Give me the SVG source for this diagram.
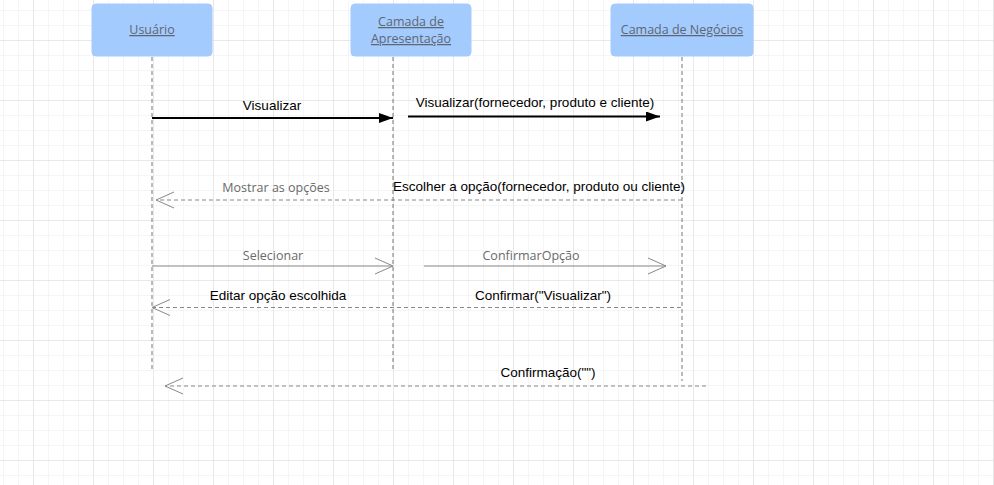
<svg xmlns="http://www.w3.org/2000/svg" width="994" height="485" viewBox="0 0 994 485">
<defs>
<pattern id="minor" x="3" y="10" width="15" height="15" patternUnits="userSpaceOnUse">
<path d="M0 0H15M0 0V15" fill="none" stroke="#ececec" stroke-width="1"/>
</pattern>
<pattern id="major" x="33" y="40" width="60" height="60" patternUnits="userSpaceOnUse">
<path d="M0 0H60M0 0V60" fill="none" stroke="#dcdcdc" stroke-width="1"/>
</pattern>
<marker id="filled" markerWidth="14" markerHeight="10" refX="14" refY="5" orient="auto" markerUnits="userSpaceOnUse">
<path d="M0 0L14 5L0 10Z" fill="#000"/>
</marker>
<marker id="open" markerWidth="20" markerHeight="18" refX="19" refY="9" orient="auto" markerUnits="userSpaceOnUse">
<path d="M1 1L19 9L1 17" fill="none" stroke="#888" stroke-width="1"/>
</marker>
</defs>
<style>
.node rect{fill:#a4cbfd;stroke:#a4cbfd}
.node text{font-family:"Open Sans","Liberation Sans",sans-serif;font-size:12.5px;fill:#5f6673;text-anchor:middle;text-decoration:underline}
.life{stroke:#777;stroke-width:1;stroke-dasharray:4 3}
.solid{stroke:#000;stroke-width:2;fill:none}
.sync{stroke:#888;stroke-width:1;fill:none}
.ret{stroke:#888;stroke-width:1;stroke-dasharray:4 3;fill:none}
.lb{font-family:"Liberation Sans",Arial,sans-serif;font-size:13.5px;fill:#000;text-anchor:middle}
.lg{font-family:"Open Sans","Liberation Sans",sans-serif;font-size:12.5px;fill:#6a6a6a;text-anchor:middle}
</style>
<rect width="994" height="485" fill="#fff"/>
<rect x="0" y="0" width="994" height="485" fill="url(#minor)"/>
<rect x="0" y="0" width="994" height="485" fill="url(#major)"/>

<g id="usuario" class="node">
<rect x="92" y="4" width="120" height="52" rx="4"/>
<text x="152" y="34">Usuário</text>
</g>
<g id="apresentacao" class="node">
<rect x="351" y="4" width="120" height="52" rx="4"/>
<text x="411" y="26">Camada de</text>
<text x="411" y="43">Apresentação</text>
</g>
<g id="negocios" class="node">
<rect x="611" y="4" width="142" height="52" rx="4"/>
<text x="682" y="34">Camada de Negócios</text>
</g>

<g id="connectors">
<line class="life" x1="152" y1="57" x2="152" y2="371"/>
<line class="life" x1="393" y1="57" x2="393" y2="372"/>
<line class="life" x1="682" y1="57" x2="682" y2="381"/>

<line class="solid" x1="152" y1="118" x2="393" y2="118" marker-end="url(#filled)"/>
<text class="lb" x="272" y="110">Visualizar</text>

<line class="solid" x1="408" y1="116.5" x2="660" y2="116.5" marker-end="url(#filled)"/>
<text class="lb" x="535" y="107">Visualizar(fornecedor, produto e cliente)</text>

<line class="ret" x1="682" y1="200" x2="156" y2="200" marker-end="url(#open)"/>
<text class="lg" x="276" y="192">Mostrar as opções</text>
<text class="lb" x="539" y="191">Escolher a opção(fornecedor, produto ou cliente)</text>

<line class="sync" x1="152" y1="266" x2="393" y2="266" marker-end="url(#open)"/>
<text class="lg" x="273" y="260">Selecionar</text>

<line class="sync" x1="424" y1="266" x2="666" y2="266" marker-end="url(#open)"/>
<text class="lg" x="531" y="260">ConfirmarOpção</text>

<line class="ret" x1="681" y1="307.5" x2="152" y2="307.5" marker-end="url(#open)"/>
<text class="lb" x="278" y="300">Editar opção escolhida</text>
<text class="lb" x="543" y="300">Confirmar("Visualizar")</text>

<line class="ret" x1="706" y1="386" x2="165" y2="386" marker-end="url(#open)"/>
<text class="lb" x="548" y="377">Confirmação("")</text>
</g>
</svg>
